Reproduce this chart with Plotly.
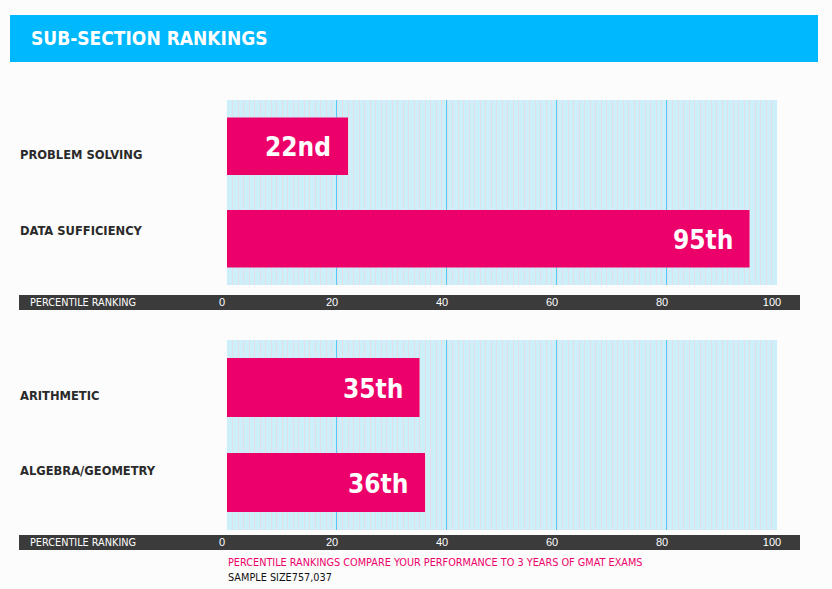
import plotly.graph_objects as go

W, H = 832, 589

# ---- data ----
section1_cats = ["PROBLEM SOLVING", "DATA SUFFICIENCY"]
section1_vals = [22, 95]
section1_text = ["22nd", "95th"]

section2_cats = ["ARITHMETIC", "ALGEBRA/GEOMETRY"]
section2_vals = [35, 36]
section2_text = ["35th", "36th"]

tick_vals = [0, 20, 40, 60, 80, 100]
tick_text = ["0", "20", "40", "60", "80", "100"]

title_text = "SUB-SECTION RANKINGS"
axis_label = "PERCENTILE RANKING"
note_text = "PERCENTILE RANKINGS COMPARE YOUR PERFORMANCE TO 3 YEARS OF GMAT EXAMS"
sample_text = "SAMPLE SIZE757,037"

# ---- style ----
BG = "#fcfcfc"
HEADER = "#00b8fd"
PLOT_BG = "#cdeffa"
MAJOR = "#00b2fa"
MINOR = "#e2dde6"
BAR = "#ec0069"
DARK = "#3b3b3b"
TXT = "#2a2a2a"
NARROW = "DejaVu Sans Condensed, Liberation Sans Narrow, sans-serif"
SANS = "Liberation Sans, Arial, sans-serif"


def px_x(p):
    return p / W


def px_y(p):
    return 1 - p / H


fig = go.Figure()

fig.add_trace(go.Bar(
    x=section1_vals, y=section1_cats, orientation="h",
    marker=dict(color=BAR, line=dict(width=0)), width=0.62,
    xaxis="x", yaxis="y", hoverinfo="skip", showlegend=False,
))
fig.add_trace(go.Bar(
    x=section2_vals, y=section2_cats, orientation="h",
    marker=dict(color=BAR, line=dict(width=0)), width=0.62,
    xaxis="x2", yaxis="y2", hoverinfo="skip", showlegend=False,
))

xdom = [px_x(227), px_x(777)]
xcommon = dict(
    domain=xdom, range=[0, 100], fixedrange=True, automargin=False,
    tickvals=tick_vals, ticktext=tick_text, ticks="",
    tickfont=dict(family=SANS, size=11, color="white"),
    ticklabelshift=-5,
    showgrid=False,
    minor=dict(dtick=1, showgrid=True, gridcolor=MINOR, gridwidth=1),
    zeroline=False, showline=False,
)
ycommon = dict(
    showticklabels=False, ticks="", automargin=False,
    showgrid=False, zeroline=False, showline=False, fixedrange=True,
    range=[1.5, -0.5],
)

fig.update_layout(
    width=W, height=H, autosize=False,
    margin=dict(l=0, r=0, t=0, b=0, pad=0, autoexpand=False),
    paper_bgcolor=BG, plot_bgcolor=PLOT_BG,
    bargap=0.3,
    xaxis=dict(anchor="y", ticklabelstandoff=9, **xcommon),
    yaxis=dict(domain=[px_y(285), px_y(100)], anchor="x", **ycommon),
    xaxis2=dict(anchor="y2", ticklabelstandoff=4, **xcommon),
    yaxis2=dict(domain=[px_y(530), px_y(340)], anchor="x2", **ycommon),
)

shapes = []
shapes.append(dict(
    type="rect", xref="paper", yref="paper",
    x0=px_x(10), x1=px_x(818), y0=px_y(62), y1=px_y(15),
    fillcolor=HEADER, line=dict(width=0), layer="below",
))
for top, bot in [(295, 310), (535, 550)]:
    shapes.append(dict(
        type="rect", xref="paper", yref="paper",
        x0=px_x(19), x1=px_x(800), y0=px_y(bot), y1=px_y(top),
        fillcolor=DARK, line=dict(width=0), layer="below",
    ))
# major grid lines at the inner tick values
for xa, ya in [("x", "y domain"), ("x2", "y2 domain")]:
    for v in tick_vals[1:-1]:
        shapes.append(dict(
            type="line", xref=xa, yref=ya, x0=v, x1=v, y0=0, y1=1,
            line=dict(color=MAJOR, width=1.2), layer="below",
        ))
fig.update_layout(shapes=shapes)

ann = []
ann.append(dict(
    text=f"<b>{title_text}</b>", xref="paper", yref="paper",
    x=px_x(29), y=px_y(38), xanchor="left", yanchor="middle",
    showarrow=False, font=dict(family=NARROW, size=19, color="white"),
))
label_pos = [(section1_cats[0], 155), (section1_cats[1], 230),
             (section2_cats[0], 395), (section2_cats[1], 470)]
for name, yy in label_pos:
    ann.append(dict(
        text=f"<b>{name}</b>", xref="paper", yref="paper",
        x=px_x(18), y=px_y(yy), xanchor="left", yanchor="middle",
        showarrow=False, font=dict(family=NARROW, size=12.8, color=TXT),
    ))
for xa, ya, cats, vals, txts in [("x", "y", section1_cats, section1_vals, section1_text),
                                  ("x2", "y2", section2_cats, section2_vals, section2_text)]:
    for c, v, t in zip(cats, vals, txts):
        ann.append(dict(
            text=f"<b>{t}</b>", xref=xa, yref=ya, x=v, y=c,
            xanchor="right", yanchor="middle", xshift=-15, yshift=-1,
            showarrow=False, font=dict(family=NARROW, size=26, color="white"),
        ))
for yy in (302, 542):
    ann.append(dict(
        text=axis_label, xref="paper", yref="paper",
        x=px_x(28), y=px_y(yy), xanchor="left", yanchor="middle",
        showarrow=False, font=dict(family=NARROW, size=10.8, color="white"),
    ))
ann.append(dict(
    text=note_text, xref="paper", yref="paper",
    x=px_x(226), y=px_y(562), xanchor="left", yanchor="middle",
    showarrow=False, font=dict(family=NARROW, size=10.8, color=BAR),
))
ann.append(dict(
    text=sample_text, xref="paper", yref="paper",
    x=px_x(226), y=px_y(577), xanchor="left", yanchor="middle",
    showarrow=False, font=dict(family=NARROW, size=10.8, color="#111111"),
))
fig.update_layout(annotations=ann)

fig.write_html(
    "out.html",
    config={"displayModeBar": False},
    post_script="document.body.style.margin='0px';document.body.style.padding='0px';document.body.style.overflow='hidden';",
)
